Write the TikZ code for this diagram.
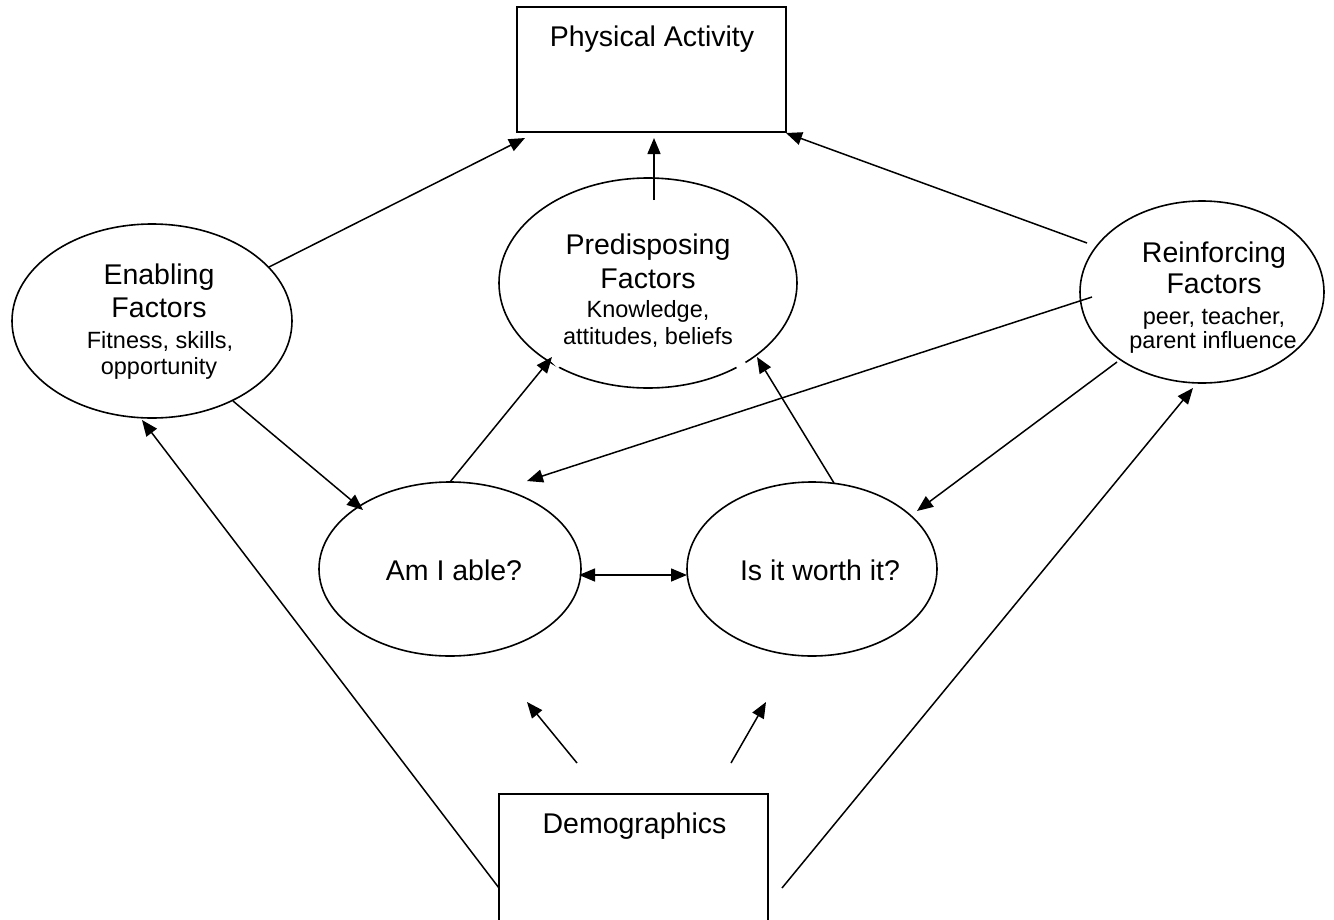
\documentclass[tikz,border=0pt]{standalone}
\usepackage{fontspec}
\setmainfont{Liberation Sans}
\usetikzlibrary{shapes.geometric,arrows.meta}
\newcommand\fbig{\fontsize{28.5}{33}\selectfont}
\newcommand\fsmall{\fontsize{23.5}{28}\selectfont}
\begin{document}
\begin{tikzpicture}[x=1pt,y=-1pt,
  oval/.style={draw, ellipse, line width=1.6pt, inner sep=0pt, outer sep=0pt},
  boxnode/.style={draw, rectangle, line width=2pt, inner sep=0pt, outer sep=0pt, minimum width=269pt},
  lbl/.style={anchor=base, inner sep=0pt, font=\fbig},
  sub/.style={anchor=base, inner sep=0pt, font=\fsmall},
  tip/.style={Triangle[length=16pt,width=13pt]},
  link/.style={line width=1.5pt, -{Triangle[length=16pt,width=13pt]}},
]
\path[use as bounding box, fill=white] (0,0) rectangle (1334,919);

% boxes
\node[boxnode, minimum height=125pt] (pa) at (651.5,69.5) {};
\node[boxnode, minimum height=136pt, anchor=north] (de) at (633.5,794) {};

% ellipses
\node[oval, minimum width=280pt, minimum height=194pt] (en) at (152,321) {};
\node[oval, minimum width=298pt, minimum height=210pt] (pr) at (648,283) {};
\node[oval, minimum width=244pt, minimum height=182pt] (re) at (1202,292) {};
\node[oval, minimum width=262pt, minimum height=174pt] (am) at (450,569) {};
\node[oval, minimum width=250pt, minimum height=174pt] (wo) at (812,569) {};

% texts
\node[lbl] (paT) at (652,46) {Physical Activity};
\node[lbl] (deT) at (634.5,833) {Demographics};

\node[lbl] (en1) at (159,284) {Enabling};
\node[lbl] (en2) at (159,317) {Factors};
\node[sub] (en3) at (160,348) {Fitness, skills,};
\node[sub] (en4) at (159,374) {opportunity};

\node[lbl] (pr1) at (648,254) {Predisposing};
\node[lbl] (pr2) at (648,288) {Factors};
\node[sub] (pr3) at (648,317) {Knowledge,};
\node[sub] (pr4) at (648,344) {attitudes, beliefs};

\node[lbl] (re1) at (1214,262) {Reinforcing};
\node[lbl] (re2) at (1214,293) {Factors};
\node[sub] (re3) at (1214,324) {peer, teacher,};
\node[sub] (re4) at (1213,348) {parent influence};

\node[lbl] (amT) at (454,580) {Am I able?};
\node[lbl] (woT) at (820,580) {Is it worth it?};

% small breaks in the Predisposing outline
\draw[white, line width=3.5pt] (546,354) -- (559,367);
\draw[white, line width=3.5pt] (737,368) -- (745,362);

% connectors
\draw[link] ([shift={(117,-54)}]en.center) -- ([shift={(8,6)}]pa.south west);
\draw[link] ([shift={(6,-83)}]pr.center) -- ([shift={(2.5,6)}]pa.south);
\draw[link] ([shift={(-115,-49)}]re.center) -- ([shift={(0,1)}]pa.south east);
\draw[link] ([shift={(-110,5)}]re.center) -- ([shift={(77,-88)}]am.center);
\draw[link] ([shift={(-85,70)}]re.center) -- ([shift={(105,-58)}]wo.center);
\draw[link] ([shift={(81,80)}]en.center) -- ([shift={(-87,-59)}]am.center);
\draw[link] (am.north) -- ([shift={(-96,74)}]pr.center);
\draw[link] ([shift={(22,-86)}]wo.center) -- ([shift={(109,74)}]pr.center);
\draw[line width=1.5pt, {Triangle[length=16pt,width=13pt]}-{Triangle[length=16pt,width=13pt]}] ([shift={(-2,6)}]am.east) -- ([shift={(0,6)}]wo.west);
\draw[link] ([shift={(-56.5,-31)}]de.north) -- ([shift={(77,46)}]am.south);
\draw[link] ([shift={(97.5,-31)}]de.north) -- ([shift={(-46,46)}]wo.south);
\draw[link] ([shift={(0,94)}]de.north west) -- ([shift={(-10,2)}]en.south);
\draw[link] ([shift={(14,94)}]de.north east) -- ([shift={(-9,5)}]re.south);
\end{tikzpicture}
\end{document}
